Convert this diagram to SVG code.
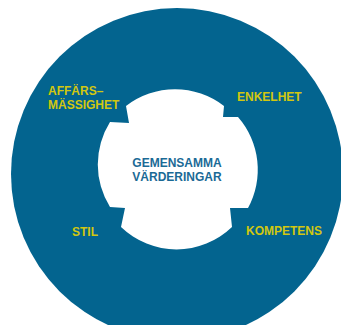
<svg xmlns="http://www.w3.org/2000/svg" width="341" height="325" viewBox="0 0 341 325">
<style>
.lbl{font-family:"Liberation Sans",Arial,sans-serif;font-weight:bold;font-size:12px;fill:#D2C70F}
.ctr{font-family:"Liberation Sans",Arial,sans-serif;font-weight:bold;font-size:12px;fill:#1B6A96;text-anchor:middle}
</style>
<rect width="341" height="325" fill="#FFFFFF"/>
<g id="ring">
<circle cx="177" cy="174" r="166" fill="#03648F"/>
</g>
<g id="center">
<path d="M126,106 A80,80 0 0 1 224,106 L223,117 L238,117 A80,80 0 0 1 248,208 L230,208 L232,227 A80,80 0 0 1 121,227 L125,208 L110,207 A80,80 0 0 1 110,122 L129,123 Z" fill="#FFFFFF"/>
<text class="ctr" x="177" y="167">GEMENSAMMA</text>
<text class="ctr" x="177" y="181">VÄRDERINGAR</text>
</g>
<g id="affarsmassighet">
<text class="lbl" x="48" y="95">AFFÄRS–</text>
<text class="lbl" x="48" y="109">MÄSSIGHET</text>
</g>
<g id="enkelhet">
<text class="lbl" x="237" y="101">ENKELHET</text>
</g>
<g id="stil">
<text class="lbl" x="72" y="236">STIL</text>
</g>
<g id="kompetens">
<text class="lbl" x="246" y="235">KOMPETENS</text>
</g>
<g id="connectors"></g>
</svg>
